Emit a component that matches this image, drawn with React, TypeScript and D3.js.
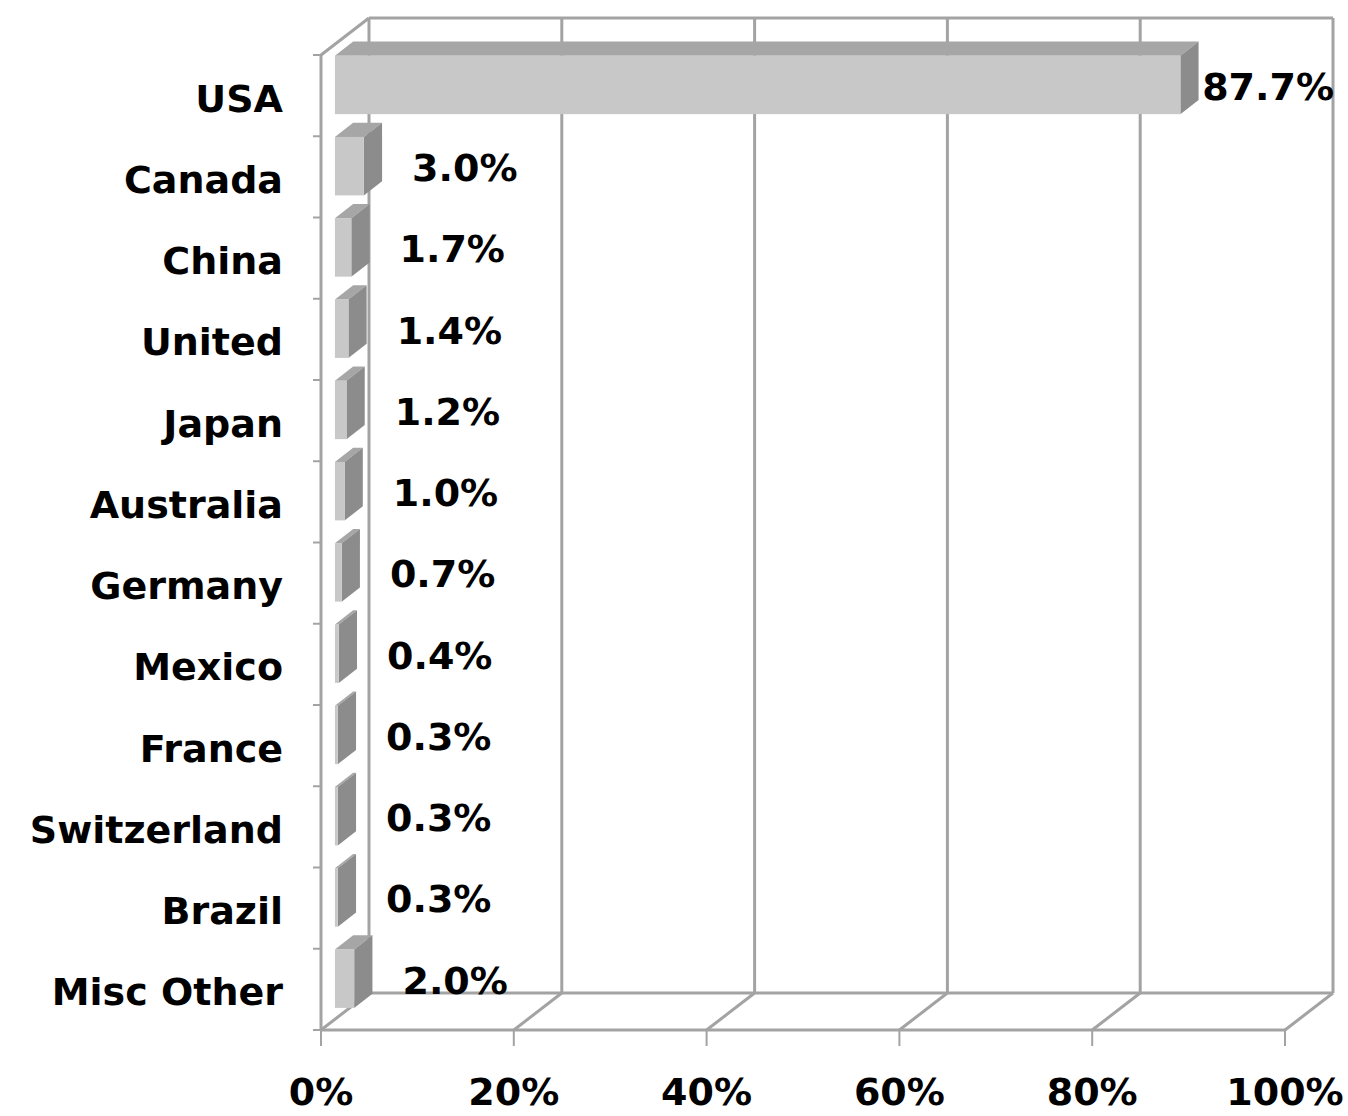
import React from "react";
import * as d3 from "d3";

const categories = [
  "USA", "Canada", "China", "United", "Japan", "Australia",
  "Germany", "Mexico", "France", "Switzerland", "Brazil", "Misc Other",
];
const shares = [87.7, 3.0, 1.7, 1.4, 1.2, 1.0, 0.7, 0.4, 0.3, 0.3, 0.3, 2.0];
const ticks = [0, 20, 40, 60, 80, 100];

const W = 1348;
const H = 1116;
const FONT = "'DejaVu Sans', Verdana, sans-serif";
const GRID = "#a3a3a3";

// 3d depth of the whole plot box
const DX = 48;
const DY = -37;
// bar sits between these depth fractions
const F0 = 0.29;
const F1 = 0.67;

const App = () => {
  const x = d3.scaleLinear().domain([0, 100]).range([321, 1285]);
  const y = d3
    .scaleBand<string>()
    .domain(categories)
    .range([55, 1030])
    .paddingInner(0.28)
    .paddingOuter(0.14);
  const top = 55;
  const bottom = 1030;
  const bandEdges = d3.range(categories.length + 1).map(i => top + i * y.step());

  const fmt = d3.format(".1f");

  return (
    <svg width={W} height={H} style={{ position: "absolute", left: 0, top: 0, background: "#fff" }}>
      {/* back wall */}
      <g stroke={GRID} strokeWidth={3} fill="none">
        <line x1={x(0) + DX} y1={top + DY} x2={x(100) + DX} y2={top + DY} />
        {ticks.map(t => (
          <line key={"g" + t} x1={x(t) + DX} y1={top + DY} x2={x(t) + DX} y2={bottom + DY} />
        ))}
        <line x1={x(0) + DX} y1={bottom + DY} x2={x(100) + DX} y2={bottom + DY} />
        {/* floor */}
        <line x1={x(0)} y1={bottom} x2={x(100)} y2={bottom} />
        {ticks.map(t => (
          <line key={"f" + t} x1={x(t)} y1={bottom} x2={x(t) + DX} y2={bottom + DY} />
        ))}
        {/* left wall */}
        <line x1={x(0)} y1={top} x2={x(0)} y2={bottom} />
        <line x1={x(0)} y1={top} x2={x(0) + DX} y2={top + DY} />
        {ticks.map(t => (
          <line key={"t" + t} x1={x(t)} y1={bottom} x2={x(t)} y2={bottom + 16} strokeWidth={2} />
        ))}
        {bandEdges.map((e, i) => (
          <line key={"c" + i} x1={x(0) - 8} y1={e} x2={x(0)} y2={e} strokeWidth={2} />
        ))}
      </g>

      {/* bars */}
      {categories.map((c, i) => {
        const v = shares[i];
        const ox = DX * F0;
        const oy = DY * F0;
        const ddx = DX * (F1 - F0);
        const ddy = DY * (F1 - F0);
        const x0 = x(0) + ox;
        const x1 = x(v) + ox;
        const y0 = (y(c) as number) + oy;
        const y1 = y0 + y.bandwidth();
        const topFace = `M${x0},${y0}L${x1},${y0}L${x1 + ddx},${y0 + ddy}L${x0 + ddx},${y0 + ddy}Z`;
        const sideFace = `M${x1},${y0}L${x1 + ddx},${y0 + ddy}L${x1 + ddx},${y1 + ddy}L${x1},${y1}Z`;
        const right = x1 + ddx;
        const cy = (y0 + y1) / 2 + 2;
        const overflow = right + 30 + 134 > x(100) + DX;
        return (
          <g key={c}>
            <path d={topFace} fill="#a6a6a6" />
            <path d={sideFace} fill="#8c8c8c" />
            <rect x={x0} y={y0} width={x1 - x0} height={y1 - y0} fill="#c8c8c8" />
            <text
              x={overflow ? x(100) + DX + 1 : right + 30}
              y={cy}
              textAnchor={overflow ? "end" : "start"}
              dominantBaseline="central"
              fontFamily={FONT}
              fontWeight="bold"
              fontSize={38}
              fill="#000"
            >
              {fmt(v) + "%"}
            </text>
          </g>
        );
      })}

      {/* category labels */}
      {categories.map(c => (
        <text
          key={"l" + c}
          x={283}
          y={(y(c) as number) + y.bandwidth() / 2 + 3}
          textAnchor="end"
          dominantBaseline="central"
          fontFamily={FONT}
          fontWeight="bold"
          fontSize={38}
        >
          {c}
        </text>
      ))}

      {/* x tick labels */}
      {ticks.map(t => (
        <text
          key={"x" + t}
          x={x(t)}
          y={1092}
          textAnchor="middle"
          dominantBaseline="central"
          fontFamily={FONT}
          fontWeight="bold"
          fontSize={38}
        >
          {t + "%"}
        </text>
      ))}
    </svg>
  );
};

export default App;
